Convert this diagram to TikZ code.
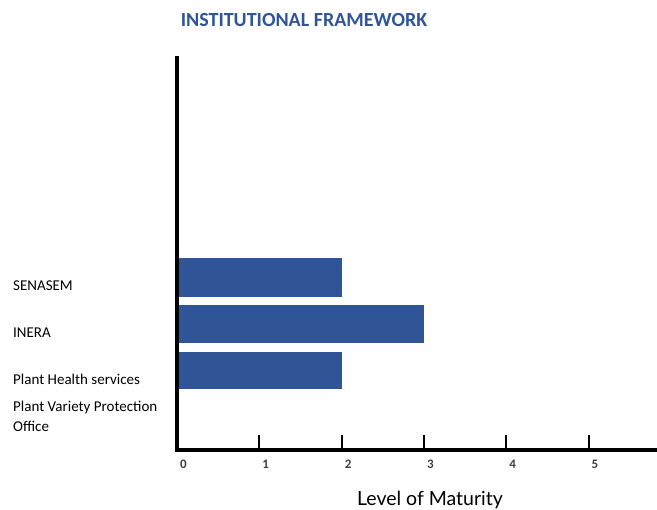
\documentclass[tikz,border=0pt]{standalone}
\usepackage{fontspec}
\setmainfont{Carlito}
\newfontfamily\gillfont{Lato}
\usepackage{tikz}
\usetikzlibrary{positioning}
\definecolor{barblue}{HTML}{2F5597}
\definecolor{ticktext}{HTML}{404040}

\begin{document}
\begin{tikzpicture}[
x=1pt, y=1pt,
bar/.style={draw=none, fill=barblue},
axis/.style={line width=4.2pt, line cap=rect},
tick/.style={line width=2pt},
ticklabel/.style={anchor=west, font=\bfseries\fontsize{13}{15}\selectfont, text=ticktext, inner sep=0pt},
category/.style={anchor=west, align=left, font=\fontsize{15}{20}\selectfont, inner sep=0pt}
]
    \useasboundingbox (-177, -60) rectangle (480, 450);

    % Title
    \node (title) [font=\bfseries\fontsize{20}{24}\selectfont, text=barblue] at (127, 430) {INSTITUTIONAL FRAMEWORK};

    % Draw axes
    \draw
  	(0,0) coordinate (origin)
  	(0,392) coordinate (ytop)
  	(480,0) coordinate (xend);
    \draw[axis] (ytop) -- (origin) -- (xend);

    % Bars
  	\fill [bar] (2, 153) rectangle (164.6, 192);
  	\fill [bar] (2, 107) rectangle (246.9, 145);
  	\fill [bar] (2, 61) rectangle (164.6, 98);

    % Ticks
  	\draw[tick] (82.3, 0) -- (82.3, 15);
  	\draw[tick] (164.6, 0) -- (164.6, 15);
  	\draw[tick] (246.9, 0) -- (246.9, 15);
  	\draw[tick] (329.2, 0) -- (329.2, 15);
  	\draw[tick] (411.5, 0) -- (411.5, 15);

  	\node (l0) [ticklabel] at (3, -14) {0};
  	\node (l1) [ticklabel] at (85.3, -14) {1};
  	\node (l2) [ticklabel] at (167.6, -14) {2};
  	\node (l3) [ticklabel] at (249.9, -14) {3};
  	\node (l4) [ticklabel] at (332.2, -14) {4};
  	\node (l5) [ticklabel] at (414.5, -14) {5};

    % Categories
  	\node (senasem) [category] at (-164, 164) {SENASEM};
  	\node (inera) [category] at (-164, 117) {INERA};
  	\node (health) [category] at (-164, 71) {Plant Health services};
  	\node (variety) [category] at (-164, 34) {Plant Variety Protection\\Office};

    \node (maturity) [font=\gillfont\fontsize{19.5}{22}\selectfont] at (253, -50) {Level of Maturity};

\end{tikzpicture}
\end{document}
